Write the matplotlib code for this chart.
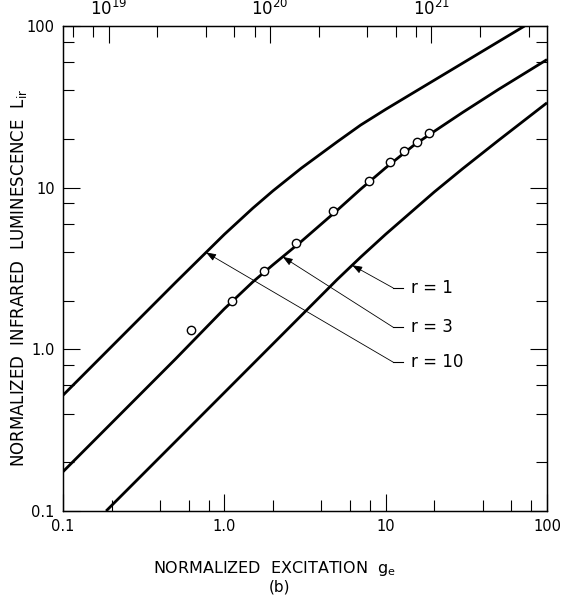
import numpy as np
import matplotlib
matplotlib.use("Agg")
import matplotlib.pyplot as plt
from matplotlib.ticker import FixedLocator, FixedFormatter, NullFormatter

# ---- data ----
# curve r = 10 (upper)
x_r10 = [0.1, 0.2, 0.5, 1.0, 1.5, 2.0, 3.0, 5.0, 7.0, 10.0, 15.0, 20.0, 30.0, 50.0, 72.6]
y_r10 = [0.52, 1.04, 2.6, 5.14, 7.46, 9.55, 13.2, 19.2, 24.4, 30.5, 38.9, 46.2, 58.9, 80.0, 100.0]
# curve r = 3 (middle)
x_r3 = [0.1, 0.2, 0.5, 1.0, 1.5, 2.0, 3.0, 5.0, 7.0, 10.0, 15.0, 20.0, 30.0, 50.0, 100.0]
y_r3 = [0.175, 0.35, 0.875, 1.78, 2.61, 3.33, 4.65, 7.24, 9.79, 13.27, 18.35, 22.3, 29.2, 40.5, 62.0]
# curve r = 1 (lower)
x_r1 = [0.185, 0.5, 1.0, 2.0, 5.0, 7.0, 10.0, 20.0, 30.0, 50.0, 100.0]
y_r1 = [0.1, 0.27, 0.54, 1.08, 2.7, 3.72, 5.15, 9.4, 13.1, 19.6, 33.5]
# measured points
x_pts = [0.618, 1.11, 1.76, 2.80, 4.72, 7.88, 10.7, 13.0, 15.6, 18.5]
y_pts = [1.31, 1.99, 3.07, 4.53, 7.18, 11.0, 14.4, 16.8, 19.1, 21.7]

curve_labels = ["r = 1", "r = 3", "r = 10"]
arrow_x = [6.2, 2.3, 0.77]          # g_e where each arrow touches its curve

x_ticks = [0.1, 1.0, 10, 100]
x_ticklabels = ["0.1", "1.0", "10", "100"]
y_ticks = [0.1, 1.0, 10, 100]
y_ticklabels = ["0.1", "1.0", "10", "100"]
top_ticks = [1e19, 1e20, 1e21]
top_ticklabels = [r"$10^{19}$", r"$10^{20}$", r"$10^{21}$"]
top_factor = 5.2e19

# ---- figure ----
fig = plt.figure(figsize=(5.69, 5.98), dpi=100)
ax = fig.add_axes([63/569, 1 - 511/598, 484/569, 485/598])
ax.set_xscale("log")
ax.set_yscale("log")
ax.set_xlim(0.1, 100)
ax.set_ylim(0.1, 100)

lw = 2.0
for xs, ys in [(x_r10, y_r10), (x_r3, y_r3), (x_r1, y_r1)]:
    ax.plot(xs, ys, color="black", lw=lw, solid_capstyle="butt",
            solid_joinstyle="round", clip_on=True)

ax.plot(x_pts, y_pts, "o", ms=6, mfc="white", mec="black", mew=1.0, zorder=5)

def curve_y(xs, ys, xq):
    return 10 ** np.interp(np.log10(xq), np.log10(xs), np.log10(ys))

curves = [(x_r1, y_r1), (x_r3, y_r3), (x_r10, y_r10)]
label_y = [0.46, 0.379, 0.307]
for (xs, ys), lab, ax_x, ly in zip(curves, curve_labels, arrow_x, label_y):
    tip = (ax_x, curve_y(xs, ys, ax_x))
    ax.annotate("", xy=tip, xycoords="data", xytext=(0.682, ly), textcoords="axes fraction",
                arrowprops=dict(arrowstyle="-|>,head_length=0.6,head_width=0.22", lw=0.6,
                                color="black", shrinkA=0, shrinkB=0))
    ax.plot([0.682, 0.702], [ly, ly], color="black", lw=0.8, transform=ax.transAxes)
    ax.text(0.72, ly, lab, transform=ax.transAxes, va="center", ha="left", fontsize=12)

# ticks
minor = []
for dec in [0.1, 1, 10]:
    minor += [dec * m for m in (2, 4, 6, 8)]
ax.xaxis.set_major_locator(FixedLocator(x_ticks))
ax.xaxis.set_major_formatter(FixedFormatter(x_ticklabels))
ax.xaxis.set_minor_locator(FixedLocator(minor))
ax.xaxis.set_minor_formatter(NullFormatter())
ax.yaxis.set_major_locator(FixedLocator(y_ticks))
ax.yaxis.set_major_formatter(FixedFormatter(y_ticklabels))
ax.yaxis.set_minor_locator(FixedLocator(minor))
ax.yaxis.set_minor_formatter(NullFormatter())
ax.tick_params(which="both", direction="in", width=0.8, labelsize=10.5, top=False, right=True)
ax.tick_params(which="major", length=12, pad=6)
ax.tick_params(which="minor", length=8)

ax2 = ax.twiny()
ax2.set_xscale("log")
ax2.set_xlim(0.1 * top_factor, 100 * top_factor)
tminor = []
for dec in [1e18, 1e19, 1e20, 1e21]:
    tminor += [dec * m for m in (2, 4, 6, 8)]
ax2.xaxis.set_major_locator(FixedLocator(top_ticks))
ax2.xaxis.set_major_formatter(FixedFormatter(top_ticklabels))
ax2.xaxis.set_minor_locator(FixedLocator(tminor))
ax2.xaxis.set_minor_formatter(NullFormatter())
ax2.tick_params(which="both", direction="in", width=0.8, labelsize=12)
ax2.tick_params(which="major", length=12, pad=5)
ax2.tick_params(which="minor", length=8)

for a in (ax, ax2):
    for s in a.spines.values():
        s.set_linewidth(0.9)

fig.text(274/569, 1 - 568/598, r"NORMALIZED  EXCITATION  $\mathregular{g_e}$",
         ha="center", va="center", fontsize=11.5)
fig.text(280/569, 1 - 587/598, "(b)", ha="center", va="center", fontsize=11)
fig.text(19/569, 1 - 278/598, r"NORMALIZED  INFRARED  LUMINESCENCE  $\mathregular{L_{ir}}$",
         ha="center", va="center", rotation=90, fontsize=12)

fig.savefig("out.png", dpi=100)
